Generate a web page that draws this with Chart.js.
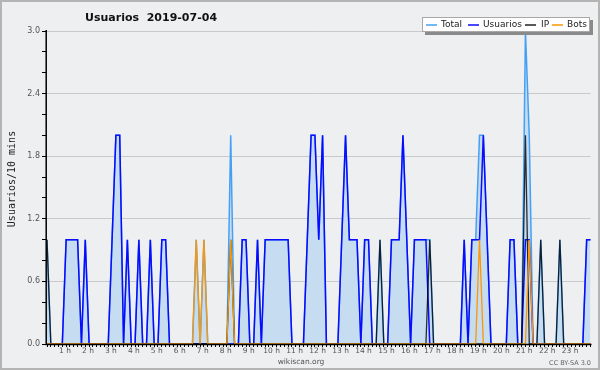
<!DOCTYPE html>
<html><head><meta charset="utf-8">
<script src="https://cdn.jsdelivr.net/npm/chart.js@4/dist/chart.umd.min.js"></script>
<style>html,body{margin:0;padding:0;background:#eeeff1;overflow:hidden}canvas{display:block}</style>
</head><body>
<canvas id="c" width="600" height="370"></canvas>
<script>
const TITLE = 'Usuarios  2019-07-04';
const Y_TITLE = 'Usuarios/10 mins';
const FOOTER = 'wikiscan.org';
const LICENSE = 'CC BY-SA 3.0';
const SERIES_NAMES = ['Total', 'Usuarios', 'IP', 'Bots'];
const HOUR_LABELS = ['0 h','1 h','2 h','3 h','4 h','5 h','6 h','7 h','8 h','9 h','10 h','11 h',
  '12 h','13 h','14 h','15 h','16 h','17 h','18 h','19 h','20 h','21 h','22 h','23 h'];
const Y_TICKS = ['0.0','0.6','1.2','1.8','2.4','3.0'];

// 10-minute slots, one row per hour
const TOTAL = [
  1,0,0,0,0,1, 1,1,1,0,1,0, 0,0,0,0,0,1, 2,2,0,1,0,0, 1,0,0,1,0,0, 1,1,0,0,0,0,
  0,0,0,1,0,1, 0,0,0,0,0,0, 2,0,0,1,1,0, 0,1,0,1,1,1, 1,1,1,1,0,0, 0,0,1,2,2,1,
  2,0,0,0,0,1, 2,1,1,1,0,1, 1,0,0,1,0,0, 1,1,1,2,1,0, 1,1,1,1,1,0, 0,0,0,0,0,0,
  0,1,0,1,1,2, 2,1,0,0,0,0, 0,1,1,0,0,3, 2,0,0,1,0,0, 0,0,1,0,0,0, 0,0,0,1,1];
const USUARIOS = [
  0,0,0,0,0,1, 1,1,1,0,1,0, 0,0,0,0,0,1, 2,2,0,1,0,0, 1,0,0,1,0,0, 1,1,0,0,0,0,
  0,0,0,0,0,0, 0,0,0,0,0,0, 0,0,0,1,1,0, 0,1,0,1,1,1, 1,1,1,1,0,0, 0,0,1,2,2,1,
  2,0,0,0,0,1, 2,1,1,1,0,1, 1,0,0,0,0,0, 1,1,1,2,1,0, 1,1,1,1,0,0, 0,0,0,0,0,0,
  0,1,0,1,1,1, 2,1,0,0,0,0, 0,1,1,0,0,1, 1,0,0,0,0,0, 0,0,0,0,0,0, 0,0,0,1,1];
const IP = [
  1,0,0,0,0,0, 0,0,0,0,0,0, 0,0,0,0,0,0, 0,0,0,0,0,0, 0,0,0,0,0,0, 0,0,0,0,0,0,
  0,0,0,0,0,0, 0,0,0,0,0,0, 1,0,0,0,0,0, 0,0,0,0,0,0, 0,0,0,0,0,0, 0,0,0,0,0,0,
  0,0,0,0,0,0, 0,0,0,0,0,0, 0,0,0,1,0,0, 0,0,0,0,0,0, 0,0,0,0,1,0, 0,0,0,0,0,0,
  0,0,0,0,0,0, 0,0,0,0,0,0, 0,0,0,0,0,2, 0,0,0,1,0,0, 0,0,1,0,0,0, 0,0,0,0,0];
const BOTS = [
  0,0,0,0,0,0, 0,0,0,0,0,0, 0,0,0,0,0,0, 0,0,0,0,0,0, 0,0,0,0,0,0, 0,0,0,0,0,0,
  0,0,0,1,0,1, 0,0,0,0,0,0, 1,0,0,0,0,0, 0,0,0,0,0,0, 0,0,0,0,0,0, 0,0,0,0,0,0,
  0,0,0,0,0,0, 0,0,0,0,0,0, 0,0,0,0,0,0, 0,0,0,0,0,0, 0,0,0,0,0,0, 0,0,0,0,0,0,
  0,0,0,0,0,1, 0,0,0,0,0,0, 0,0,0,0,0,0, 1,0,0,0,0,0, 0,0,0,0,0,0, 0,0,0,0,0];

const SLOTS = TOTAL.map((_, i) => String(Math.floor(i / 6)).padStart(2, '0') + ':' + String((i % 6) * 10).padStart(2, '0'));

const COLORS = ['#45a0f5', '#0a0aff', 'rgba(0,0,0,0.8)', '#ff9600'];
const FILL = '#c6dcf0';
const BG = '#eeeff1';

const decor = {
  id: 'decor',
  beforeDraw(chart) {
    const c = chart.ctx;
    c.save();
    c.fillStyle = BG;
    c.fillRect(0, 0, chart.width, chart.height);
    c.restore();
  },
  afterDatasetsDraw(chart) {
    const c = chart.ctx, a = chart.chartArea;
    c.save();
    c.strokeStyle = '#000';
    c.lineWidth = 1.5;
    c.beginPath();
    c.moveTo(46.2, a.top - 1);
    c.lineTo(46.2, a.bottom + 0.5);
    c.lineTo(a.right + 1, a.bottom + 0.5);
    c.stroke();
    c.restore();
  },
  afterDraw(chart) {
    const c = chart.ctx;
    c.save();
    // title
    c.fillStyle = '#111';
    c.font = 'bold 11px "DejaVu Sans"';
    c.textBaseline = 'alphabetic';
    c.textAlign = 'left';
    c.fillText(TITLE, 85, 21);
    // y title
    c.save();
    c.translate(14.5, 179);
    c.rotate(-Math.PI / 2);
    c.font = '10px "DejaVu Sans Mono"';
    c.textAlign = 'center';
    c.textBaseline = 'alphabetic';
    c.fillStyle = '#222';
    c.fillText(Y_TITLE, 0, 0);
    c.restore();
    // legend
    const lx = 422, ly = 17, lw = 168, lh = 15;
    c.fillStyle = '#8a8a8a';
    c.fillRect(lx + 3, ly + 3, lw, lh);
    c.fillStyle = '#fff';
    c.fillRect(lx, ly, lw, lh);
    c.strokeStyle = '#a8a8a8';
    c.lineWidth = 1;
    c.strokeRect(lx + 0.5, ly + 0.5, lw - 1, lh - 1);
    const lineX = [426, 468, 525, 552];
    const textX = [441, 483, 541, 567];
    c.font = '9px "DejaVu Sans"';
    c.textBaseline = 'middle';
    c.textAlign = 'left';
    SERIES_NAMES.forEach((name, k) => {
      c.strokeStyle = k === 2 ? '#222' : COLORS[k];
      c.lineWidth = 1.5;
      c.beginPath();
      c.moveTo(lineX[k], ly + 8);
      c.lineTo(lineX[k] + 11, ly + 8);
      c.stroke();
      c.fillStyle = '#222';
      c.fillText(name, textX[k], ly + 8);
    });
    // footer
    c.fillStyle = '#555';
    c.font = '7.5px "DejaVu Sans"';
    c.textAlign = 'center';
    c.textBaseline = 'alphabetic';
    c.fillText(FOOTER, 301, 364);
    c.font = '6.5px "DejaVu Sans"';
    c.textAlign = 'right';
    c.fillStyle = '#666';
    c.fillText(LICENSE, 591, 365);
    // outer border
    c.strokeStyle = '#b4b4b4';
    c.lineWidth = 2;
    c.strokeRect(1, 1, chart.width - 2, chart.height - 2);
    c.restore();
  }
};

const mk = (label, data, color, order, extra) => Object.assign({
  label, data, borderColor: color, borderWidth: 1.5, pointRadius: 0, pointHoverRadius: 0,
  tension: 0, fill: false, order
}, extra || {});

new Chart(document.getElementById('c'), {
  type: 'line',
  data: {
    labels: SLOTS,
    datasets: [
      mk(SERIES_NAMES[0], TOTAL, COLORS[0], 4, { fill: 'origin', backgroundColor: FILL }),
      mk(SERIES_NAMES[1], USUARIOS, COLORS[1], 3),
      mk(SERIES_NAMES[2], IP, COLORS[2], 2, { borderWidth: 1.3 }),
      mk(SERIES_NAMES[3], BOTS, COLORS[3], 1, { borderWidth: 1.3 })
    ]
  },
  options: {
    responsive: false,
    animation: false,
    devicePixelRatio: 1,
    layout: { padding: { left: 0, right: 9.5, top: 31, bottom: 0 } },
    plugins: { legend: { display: false }, title: { display: false }, tooltip: { enabled: false } },
    events: [],
    scales: {
      x: {
        type: 'category',
        offset: false,
        border: { display: false },
        grid: { display: true, drawOnChartArea: false, tickLength: 3, tickColor: '#000', tickWidth: 1, color: '#000' },
        ticks: {
          autoSkip: false, maxRotation: 0, minRotation: 0, padding: 0, labelOffset: -5,
          color: '#555', font: { family: 'DejaVu Sans', size: 7.5 },
          callback: (v, i) => (i % 6 === 0 && i > 0) ? HOUR_LABELS[i / 6] : ''
        },
        afterFit: s => { s.height = 26; }
      },
      y: {
        min: 0, max: 3,
        border: { display: false },
        grid: {
          color: ctx => {
            const t = Math.round(ctx.tick.value * 10);
            return (t > 0 && t % 6 === 0) ? '#c9c9c9' : 'rgba(0,0,0,0)';
          },
          lineWidth: 1, tickLength: 5, tickColor: '#000', tickWidth: 1
        },
        ticks: {
          stepSize: 0.2, maxTicksLimit: 20, padding: 2, color: '#555',
          font: { family: 'DejaVu Sans', size: 8 },
          callback: v => {
            const t = Math.round(v * 10);
            return t % 6 === 0 ? Y_TICKS[t / 6] : '';
          }
        },
        afterFit: s => { s.width = 47; }
      }
    }
  },
  plugins: [decor]
});
</script>
</body></html>
